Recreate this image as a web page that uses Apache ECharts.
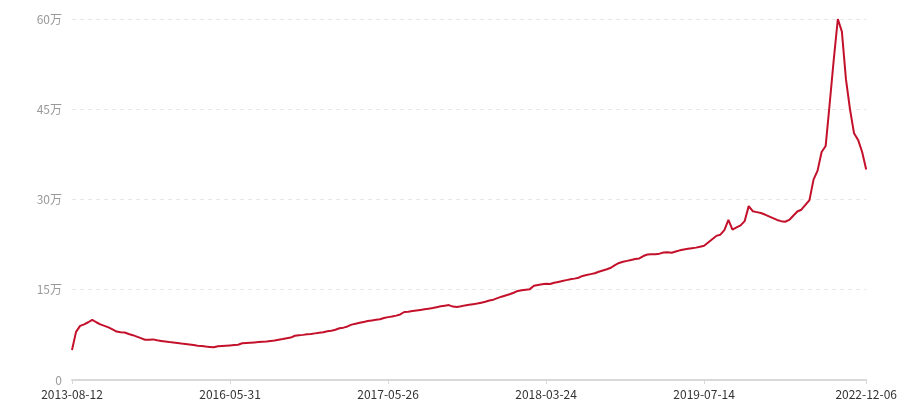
<!DOCTYPE html>
<html>
<head>
<meta charset="utf-8">
<script src="https://cdn.jsdelivr.net/npm/echarts@6/dist/echarts.min.js"></script>
<style>
html,body{margin:0;padding:0;background:#fff;}
#chart{width:900px;height:400px;}
</style>
</head>
<body>
<div id="chart"></div>
<script>
// Tick labels shown on the x axis and the category index where each one sits
const tickLabels = ['2013-08-12', '2016-05-31', '2017-05-26', '2018-03-24', '2019-07-14', '2022-12-06'];
const tickIndex = [0, 39, 78, 117, 156, 196];

// Y axis ticks (unit: 万)
const yTicks = [0, 15, 30, 45, 60];

// Series values (unit: 万)
const values = [
  5.0, 8.0, 9.0, 9.25, 9.6, 10.0, 9.6, 9.25, 9.0, 8.75,
  8.4, 8.05, 7.95, 7.9, 7.65, 7.45, 7.2, 6.95, 6.7, 6.7,
  6.75, 6.6, 6.5, 6.4, 6.3, 6.25, 6.15, 6.05, 6.0, 5.9,
  5.8, 5.7, 5.65, 5.55, 5.5, 5.43, 5.6, 5.65, 5.7, 5.75,
  5.8, 5.85, 6.1, 6.15, 6.2, 6.25, 6.3, 6.35, 6.4, 6.5,
  6.55, 6.7, 6.8, 6.95, 7.05, 7.35, 7.45, 7.5, 7.6, 7.65,
  7.75, 7.85, 7.95, 8.1, 8.2, 8.35, 8.6, 8.7, 8.9, 9.2,
  9.35, 9.5, 9.65, 9.8, 9.9, 10.0, 10.1, 10.3, 10.45, 10.55,
  10.7, 10.9, 11.3, 11.35, 11.45, 11.55, 11.65, 11.75, 11.85, 11.95,
  12.1, 12.25, 12.35, 12.45, 12.2, 12.15, 12.25, 12.4, 12.5, 12.6,
  12.7, 12.85, 13.0, 13.2, 13.35, 13.6, 13.85, 14.05, 14.25, 14.5,
  14.8, 14.9, 15.0, 15.1, 15.65, 15.8, 15.9, 16.0, 15.95, 16.15,
  16.3, 16.45, 16.6, 16.75, 16.85, 17.0, 17.3, 17.45, 17.6, 17.75,
  18.0, 18.2, 18.4, 18.65, 19.1, 19.45, 19.65, 19.8, 19.95, 20.1,
  20.2, 20.6, 20.85, 20.9, 20.9, 21.0, 21.2, 21.25, 21.15, 21.35,
  21.55, 21.7, 21.8, 21.9, 22.0, 22.15, 22.3, 22.85, 23.4, 23.95,
  24.15, 24.9, 26.6, 25.0, 25.35, 25.7, 26.4, 28.9, 28.05, 27.9,
  27.75, 27.5, 27.2, 26.9, 26.6, 26.4, 26.3, 26.6, 27.3, 28.0,
  28.3, 29.1, 29.9, 33.3, 34.8, 37.9, 38.9, 46.0, 53.3, 60.0,
  57.9, 50.0, 45.0, 41.0, 39.9, 37.9, 35.0
];

const categories = values.map((v, i) => {
  const k = tickIndex.indexOf(i);
  return k >= 0 ? tickLabels[k] : ('#' + i);
});
const showTick = (i) => tickIndex.indexOf(i) >= 0;

const chart = echarts.init(document.getElementById('chart'), null, {renderer: 'canvas'});
chart.setOption({
  animation: false,
  backgroundColor: '#fff',
  grid: {left: 72, right: 31, top: 19, bottom: 20, containLabel: false},
  xAxis: {
    type: 'category',
    data: categories,
    boundaryGap: false,
    axisLine: {lineStyle: {color: '#d9d9d9', width: 2}},
    axisTick: {show: true, interval: showTick, length: 4, lineStyle: {color: '#d9d9d9'}},
    axisLabel: {
      interval: showTick,
      color: '#333',
      fontSize: 12,
      fontFamily: '"Microsoft YaHei", "Noto Sans CJK SC", sans-serif',
      margin: 8
    },
    splitLine: {show: false}
  },
  yAxis: {
    type: 'value',
    min: yTicks[0],
    max: yTicks[yTicks.length - 1],
    interval: yTicks[1] - yTicks[0],
    axisLine: {show: false},
    axisTick: {show: false},
    axisLabel: {
      color: '#999',
      fontSize: 12,
      fontFamily: '"Microsoft YaHei", "Noto Sans CJK SC", sans-serif',
      margin: 10,
      formatter: (v) => v === 0 ? '0' : v + '万'
    },
    splitLine: {show: true, lineStyle: {color: '#e8e8e8', type: [4, 4], width: 1}}
  },
  series: [{
    type: 'line',
    data: values,
    showSymbol: false,
    symbol: 'none',
    lineStyle: {color: '#c4112b', width: 2},
    itemStyle: {color: '#c4112b'}
  }]
});
</script>
</body>
</html>
